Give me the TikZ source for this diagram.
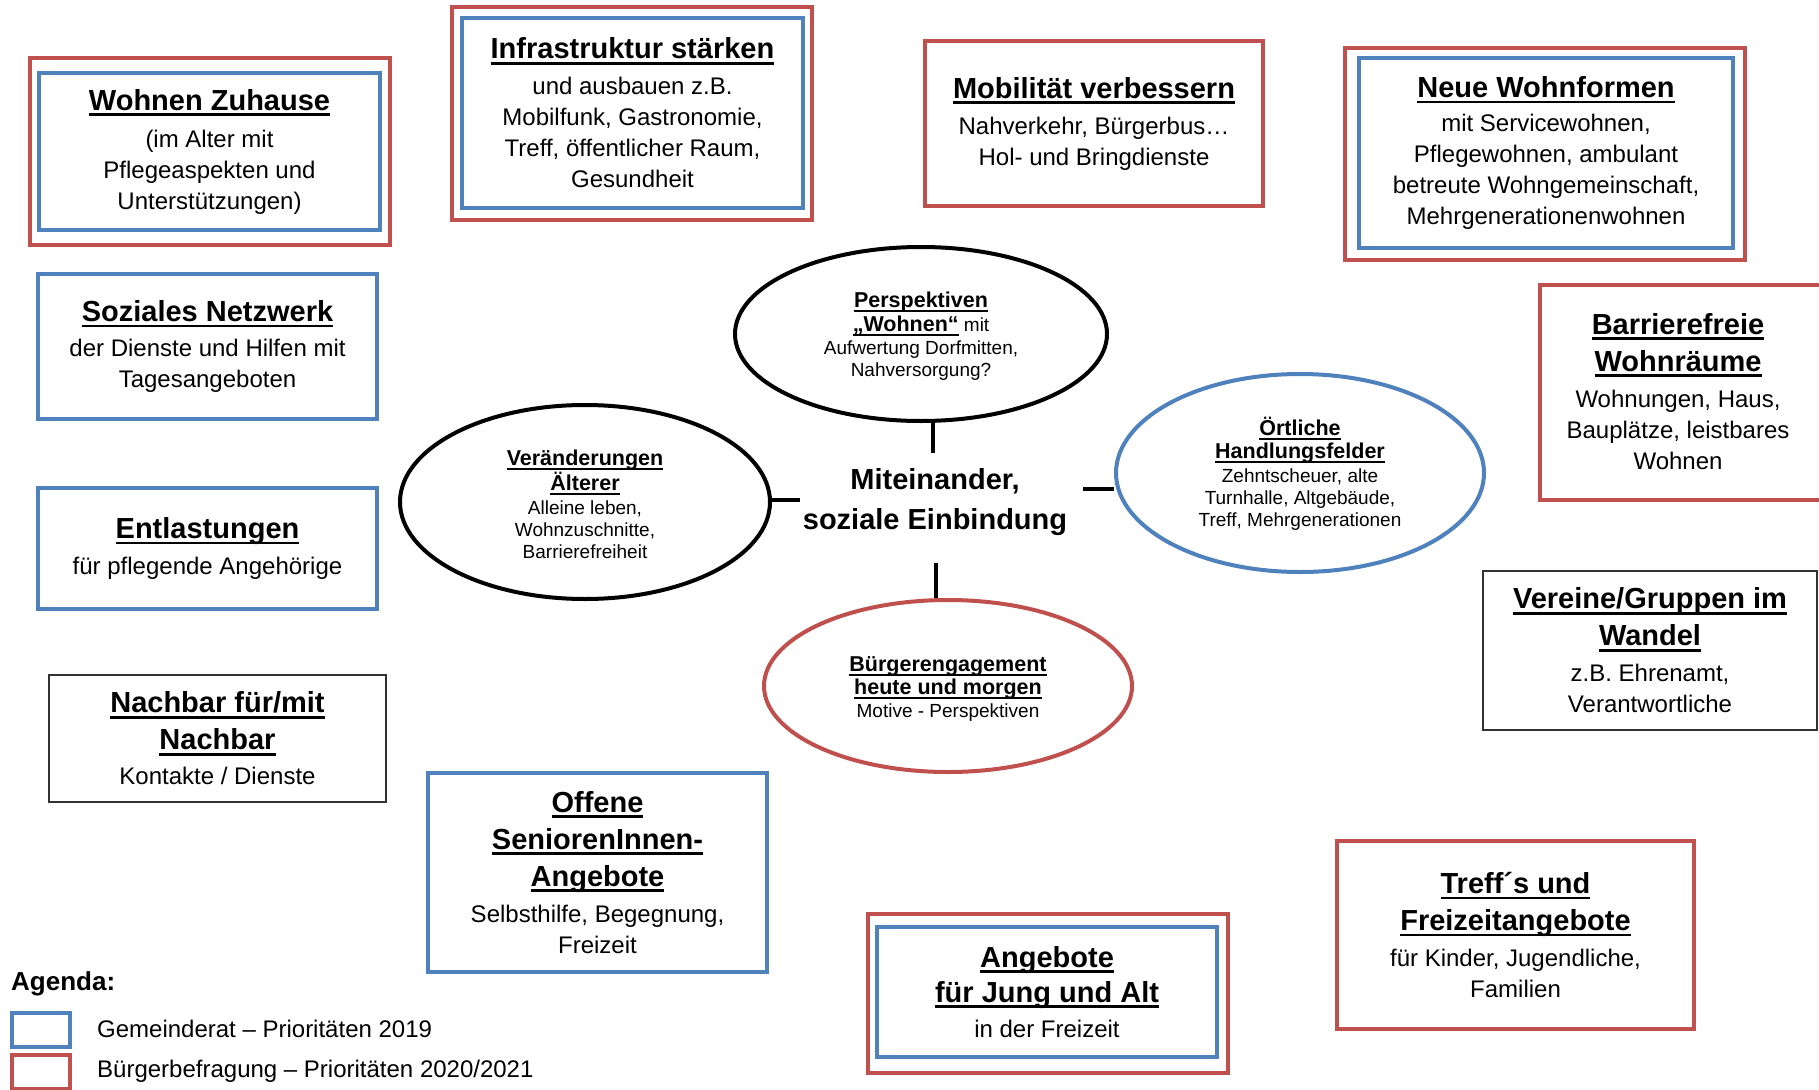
\documentclass[tikz,border=0pt]{standalone}
\usepackage{fontspec}
\setmainfont{Liberation Sans}
\usetikzlibrary{shapes.geometric}
\definecolor{ored}{RGB}{192,80,77}
\definecolor{oblue}{RGB}{79,129,189}
\definecolor{ogray}{RGB}{50,50,50}
\newsavebox\ulbox
\newcommand\myul[1]{\sbox\ulbox{#1}\rlap{\rule[-0.2em]{\wd\ulbox}{0.095em}}\usebox\ulbox}
\newcommand\ttl{\fontsize{29}{36}\selectfont\bfseries}
\newcommand\bdy{\fontsize{24}{31}\selectfont}
\newcommand\ettl{\fontsize{21.5}{24}\selectfont\bfseries}
\newcommand\ebdy{\fontsize{19}{22}\selectfont}
\newcommand\estrut{\rule{0pt}{20.5pt}}
\begin{document}
\begin{tikzpicture}[x=1pt,y=-1pt,
  box/.style={draw, line width=4pt, rectangle, inner sep=0pt, align=center, font=\bdy},
  redbox/.style={box, draw=ored},
  bluebox/.style={box, draw=oblue},
  graybox/.style={box, draw=ogray, line width=2.4pt},
  ell/.style={draw, ellipse, line width=4pt, inner sep=0pt, align=center, font=\ebdy},
  link/.style={line width=4pt},
  legtext/.style={anchor=west, inner sep=0pt, font=\bdy},
]
\clip (0,0) rectangle (1819,1089);
\fill[white] (0,0) rectangle (1819,1089);

% --- boxes ---
\node[redbox, minimum width=360pt, minimum height=187pt] (wzo) at (210,151.5) {};
\node[bluebox, minimum width=341pt, minimum height=157pt] (wz) at (209.5,151.5)
  {{\ttl\myul{Wohnen Zuhause}}\\[6pt] (im Alter mit\\ Pflegeaspekten und\\ Unterstützungen)};

\node[redbox, minimum width=360pt, minimum height=213pt] (info) at (632,113.5) {};
\node[bluebox, minimum width=341pt, minimum height=190pt] (inf) at (632.5,113)
  {{\ttl\myul{Infrastruktur stärken}}\\[5pt] und ausbauen z.B.\\ Mobilfunk, Gastronomie,\\ Treff, öffentlicher Raum,\\ Gesundheit};

\node[redbox, minimum width=338pt, minimum height=165pt] (mob) at (1094,123.5)
  {{\ttl\myul{Mobilität verbessern}}\\[5pt] Nahverkehr, Bürgerbus…\\ Hol- und Bringdienste};

\node[redbox, minimum width=400pt, minimum height=212pt] (neuo) at (1545,154) {};
\node[bluebox, minimum width=374pt, minimum height=190pt] (neu) at (1546,153)
  {{\ttl\myul{Neue Wohnformen}}\\[3pt] mit Servicewohnen,\\ Pflegewohnen, ambulant\\ betreute Wohngemeinschaft,\\ Mehrgenerationenwohnen};

\node[bluebox, minimum width=339pt, minimum height=145pt] (soz) at (207.5,346.5)
  {{\ttl\myul{Soziales Netzwerk}}\\[4pt] der Dienste und Hilfen mit\\ Tagesangeboten};

\node[redbox, minimum width=340pt, minimum height=215pt] (barro) at (1710,392.5) {};
\node[align=center, inner sep=0pt, font=\bdy] (barr) at (1678,391.5)
  {{\ttl\myul{Barrierefreie}}\\[6pt] {\ttl\myul{Wohnräume}}\\[5pt] Wohnungen, Haus,\\ Bauplätze, leistbares\\ Wohnen};

\node[bluebox, minimum width=339pt, minimum height=121pt] (entl) at (207.5,548.5)
  {{\ttl\myul{Entlastungen}}\\[5pt] für pflegende Angehörige};

\node[graybox, minimum width=334pt, minimum height=159pt] (ver) at (1650,650.5)
  {{\ttl\myul{Vereine/Gruppen im}}\\[6pt] {\ttl\myul{Wandel}}\\[5pt] z.B. Ehrenamt,\\ Verantwortliche};

\node[graybox, minimum width=337pt, minimum height=127pt] (nach) at (217.5,738.5)
  {{\ttl\myul{Nachbar für/mit}}\\[6pt] {\ttl\myul{Nachbar}}\\[4pt] Kontakte / Dienste};

\node[bluebox, minimum width=339pt, minimum height=199pt] (off) at (597.5,872.5)
  {{\ttl\myul{Offene}}\\[6pt] {\ttl\myul{SeniorenInnen-}}\\[6pt] {\ttl\myul{Angebote}}\\[5pt] Selbsthilfe, Begegnung,\\ Freizeit};

\node[redbox, minimum width=360pt, minimum height=159pt] (ango) at (1048,993.5) {};
\node[bluebox, minimum width=340pt, minimum height=130pt] (ang) at (1047,992)
  {{\ttl\myul{Angebote}}\\[4pt] {\ttl\myul{für Jung und Alt}}\\[4pt] in der Freizeit};

\node[redbox, minimum width=357pt, minimum height=188pt] (treff) at (1515.5,935)
  {{\ttl\myul{Treff´s und}}\\[6pt] {\ttl\myul{Freizeitangebote}}\\[5pt] für Kinder, Jugendliche,\\ Familien};

% --- ellipses ---
\node[ell, minimum width=372pt, minimum height=174pt] (persp) at (921,334)
  {\estrut{\ettl\myul{Perspektiven}}\\[2pt] {\ettl\myul{„Wohnen“}} mit\\[1pt] Aufwertung Dorfmitten,\\ Nahversorgung?};
\node[ell, minimum width=370pt, minimum height=194pt] (veraend) at (585,502)
  {\estrut{\ettl\myul{Veränderungen}}\\[1pt] {\ettl\myul{Älterer}}\\[2pt] Alleine leben,\\ Wohnzuschnitte,\\ Barrierefreiheit};
\node[ell, draw=oblue, minimum width=368pt, minimum height=198pt] (oertl) at (1300,473)
  {\estrut{\ettl\myul{Örtliche}}\\[1pt] {\ettl\myul{Handlungsfelder}}\\[2pt] Zehntscheuer, alte\\ Turnhalle, Altgebäude,\\ Treff, Mehrgenerationen};
\node[ell, draw=ored, minimum width=368pt, minimum height=172pt] (buerg) at (948,686)
  {\estrut{\ettl\myul{Bürgerengagement}}\\[1pt] {\ettl\myul{heute und morgen}}\\[1pt] Motive - Perspektiven};

% --- centre ---
\node[align=center, inner sep=0pt, font=\fontsize{29}{40}\selectfont\bfseries] (mitte) at (935,502)
  {Miteinander,\\ soziale Einbindung};
\coordinate (ctop) at (933,453);
\coordinate (cbot) at (936,563);
\coordinate (cright) at (1083,489);
\coordinate (cleft) at (800,500);
\draw[link] (ctop) -- (ctop |- persp.south);
\draw[link] (cbot) -- (cbot |- buerg.north);
\draw[link] (cright) -- (cright -| oertl.west);
\draw[link] (cleft) -- (cleft -| veraend.east);

% --- legend ---
\node[anchor=west, inner sep=0pt, font=\fontsize{26}{30}\selectfont\bfseries] (agenda) at (11,984) {Agenda:};
\node[draw=oblue, line width=4pt, minimum width=58pt, minimum height=34pt, inner sep=0pt] (legb) at (41,1030) {};
\node[draw=ored, line width=4pt, minimum width=58pt, minimum height=34pt, inner sep=0pt] (legr) at (41,1072) {};
\node[legtext] (legbt) at (97,1029) {Gemeinderat – Prioritäten 2019};
\node[legtext] (legrt) at (97,1071) {Bürgerbefragung – Prioritäten 2020/2021};
\end{tikzpicture}
\end{document}
